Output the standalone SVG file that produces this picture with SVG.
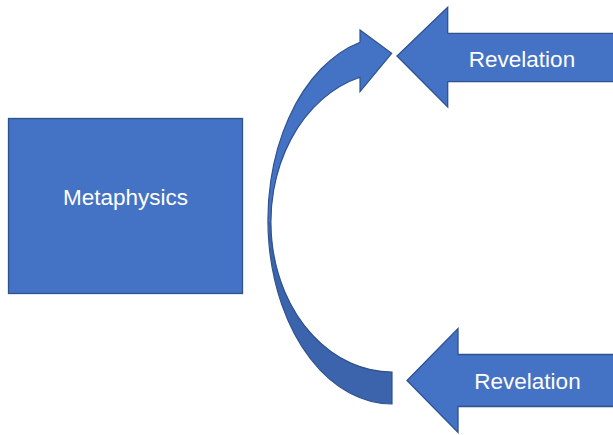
<svg xmlns="http://www.w3.org/2000/svg" width="613" height="435" viewBox="0 0 613 435">
<style>
.shape{fill:#4472C4;stroke:#2F528F;stroke-width:1.3}
.lbl{font-family:"Liberation Sans",Arial,sans-serif;font-size:22.5px;fill:#ffffff;text-anchor:middle}
</style>
<rect width="613" height="435" fill="#ffffff"/>
<g id="metaphysics">
<rect class="shape" x="8.5" y="118.5" width="234" height="175"/>
<text class="lbl" x="125.5" y="205">Metaphysics</text>
</g>
<g id="revelation-top">
<path class="shape" d="M620,33.3 L447.7,33.3 L447.7,7.3 L397,56 L447.7,107 L447.7,81.7 L620,81.7 Z"/>
<text class="lbl" x="522" y="66.5">Revelation</text>
</g>
<g id="revelation-bottom">
<path class="shape" d="M620,354.5 L458,354.5 L458,328.5 L407,380.5 L458,432.5 L458,406.5 L620,406.5 Z"/>
<text class="lbl" x="527.5" y="389">Revelation</text>
</g>
<g id="connectors">
<path fill="#4472C4" d="M360,42.2 A124,184 0 0 0 268,220 L271,222 A121,150 0 0 1 360,77.3 L360,91.7 L391.7,53.3 L360,30 Z"/>
<path fill="#3C64AD" d="M268,220 A124,184 0 0 0 392,404 L392,372 A121,150 0 0 1 271,222 Z"/>
<path fill="none" stroke="#2F528F" stroke-width="1.2" d="M360,42.2 A124,184 0 0 0 392,404 L392,372 A121,150 0 0 1 360,77.3 L360,91.7 L391.7,53.3 L360,30 Z"/>
</g>
</svg>
